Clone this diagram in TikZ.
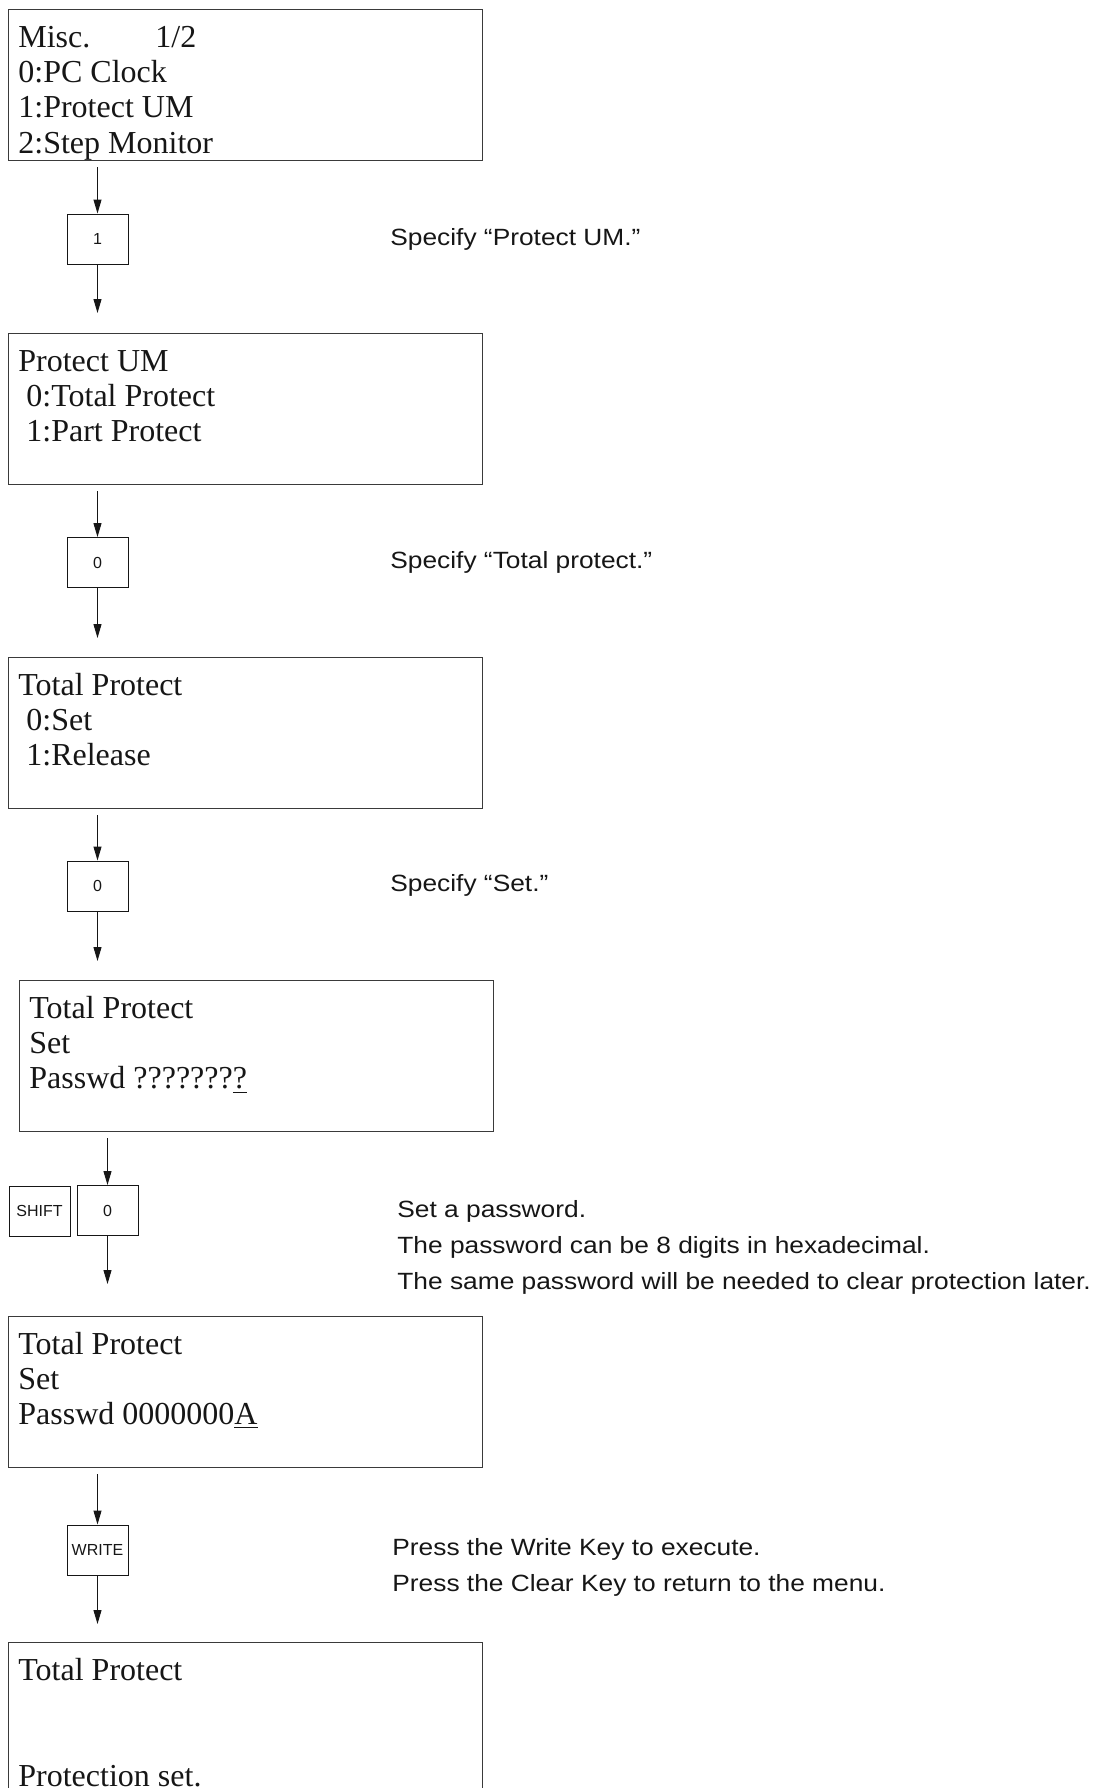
\documentclass[tikz,border=0pt]{standalone}
\usepackage{fontspec}
\setmainfont{Liberation Serif}
\newfontfamily\pmsans[FakeStretch=1.12,Ligatures=TeX]{Liberation Sans}
\newfontfamily\pmkeyfont{Liberation Sans}
\usetikzlibrary{arrows.meta,calc}
\definecolor{pmink}{HTML}{161616}
\definecolor{pmframe}{HTML}{3A3A3A}
\newcommand\lcdstrut{\rule{0pt}{12.35pt}}
\newcommand\notestrut{\rule{0pt}{12.6pt}}
\tikzset{
  pm screen/.style={draw=pmframe, line width=0.65pt, anchor=north west,
    minimum width=237pt, minimum height=75.5pt, inner sep=0pt},
  pm lcd/.style={anchor=north west, inner sep=0pt, align=left, text=pmink,
    font=\fontsize{16pt}{17.65pt}\selectfont},
  pm key/.style={draw=pmink, line width=0.5pt, minimum width=30.5pt,
    minimum height=25pt, inner sep=0pt, text=pmink,
    font=\pmkeyfont\fontsize{8pt}{9pt}\selectfont},
  pm arrow/.style={-{Triangle[length=7pt,width=4pt]}, line width=0.5pt, draw=pmink},
  pm note/.style={anchor=north west, inner sep=0pt, align=left, text=pmink,
    font=\pmsans\fontsize{11.75pt}{18pt}\selectfont}
}

\begin{document}
\begin{tikzpicture}[x=0.5pt, y=-0.5pt]
  \useasboundingbox (0,0) rectangle (1104,1788);
  % screens
  \node[pm screen] (s1) at (8,9) {};
  \node[pm screen] (s2) at (8,333) {};
  \node[pm screen] (s3) at (8,657) {};
  \node[pm screen] (s4) at (19,980) {};
  \node[pm screen] (s5) at (8,1316) {};
  \node[pm screen] (s6) at (8,1642) {};
  \node[pm lcd] (l1) at ($(s1.north west)+(10,13)$) {\lcdstrut\makebox[68.5pt][l]{Misc.}1/2\\0:PC Clock\\1:Protect UM\\2:Step Monitor};
  \node[pm lcd] (l2) at ($(s2.north west)+(10,13)$) {\lcdstrut Protect UM\\\ 0:Total Protect\\\ 1:Part Protect};
  \node[pm lcd] (l3) at ($(s3.north west)+(10,13)$) {\lcdstrut Total Protect\\\ 0:Set\\\ 1:Release};
  \node[pm lcd] (l4) at ($(s4.north west)+(10,13)$) {\lcdstrut Total Protect\\Set\\Passwd ???????\underline{?}};
  \node[pm lcd] (l5) at ($(s5.north west)+(10,13)$) {\lcdstrut Total Protect\\Set\\Passwd 0000000\underline{A}};
  \node[pm lcd] (l6) at ($(s6.north west)+(10,13)$) {\lcdstrut Total Protect\\\mbox{}\\\mbox{}\\Protection set.};
  % keys
  \node[pm key] (k1) at (97.5,239) {1};
  \node[pm key] (k2) at (97.5,562.5) {0};
  \node[pm key] (k3) at (97.5,886) {0};
  \node[pm key] (k4s) at (39.5,1211) {SHIFT};
  \node[pm key] (k4) at (107.5,1210.5) {0};
  \node[pm key] (k5) at (97.5,1550) {WRITE};
  % flow
  \draw[pm arrow, shorten <=3pt] (s1.south -| k1) -- (k1.north);
  \draw[pm arrow, shorten >=10pt] (k1.south) -- (s2.north -| k1);
  \draw[pm arrow, shorten <=3pt] (s2.south -| k2) -- (k2.north);
  \draw[pm arrow, shorten >=9.5pt] (k2.south) -- (s3.north -| k2);
  \draw[pm arrow, shorten <=3pt] (s3.south -| k3) -- (k3.north);
  \draw[pm arrow, shorten >=9.5pt] (k3.south) -- (s4.north -| k3);
  \draw[pm arrow, shorten <=3pt] (s4.south -| k4) -- (k4.north);
  \draw[pm arrow, shorten >=16pt] (k4.south) -- (s5.north -| k4);
  \draw[pm arrow, shorten <=3pt] (s5.south -| k5) -- (k5.north);
  \draw[pm arrow, shorten >=9pt] (k5.south) -- (s6.north -| k5);
  % notes
  \node[pm note] (n1) at (390,219.8) {\notestrut Specify “Protect UM.”};
  \node[pm note] (n2) at (390,542.8) {\notestrut Specify “Total protect.”};
  \node[pm note] (n3) at (390,865.8) {\notestrut Specify “Set.”};
  \node[pm note] (n4) at (397,1191.8) {\notestrut Set a password.\\The password can be 8 digits in hexadecimal.\\The same password will be needed to clear protection later.};
  \node[pm note] (n5) at (392,1529.8) {\notestrut Press the Write Key to execute.\\Press the Clear Key to return to the menu.};
\end{tikzpicture}
\end{document}
